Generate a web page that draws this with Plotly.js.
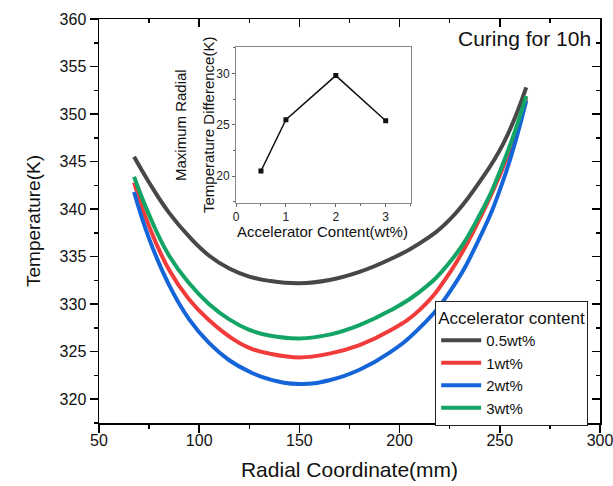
<!DOCTYPE html>
<html>
<head>
<meta charset="utf-8">
<script src="https://cdn.plot.ly/plotly-3.0.1.min.js"></script>
<style>html,body{margin:0;padding:0;background:#fff;}#chart{width:613px;height:486px;}</style>
</head>
<body>
<div id="chart"></div>
<script>
// Main chart data
const radial = [67.5, 75, 85, 95, 105, 115, 125, 135, 150, 165, 180, 195, 210, 225, 240, 252, 263.2];
const temp05 = [345.5, 342.8, 339.6, 337.1, 335.1, 333.75, 332.9, 332.45, 332.2, 332.55, 333.4, 334.7, 336.4, 338.9, 342.9, 347.0, 352.8];
const temp1  = [342.8, 338.2, 333.6, 330.5, 328.3, 326.6, 325.4, 324.8, 324.4, 324.8, 325.7, 327.2, 329.4, 333.3, 339.0, 344.6, 351.7];
const temp2  = [341.8, 336.9, 332.0, 328.4, 325.9, 324.1, 322.9, 322.1, 321.6, 322.0, 323.1, 324.9, 327.5, 331.3, 337.0, 343.2, 351.4];
const temp3  = [343.4, 339.4, 335.1, 332.2, 330.0, 328.4, 327.3, 326.7, 326.4, 326.8, 327.8, 329.3, 331.3, 334.4, 339.4, 345.0, 351.9];
const seriesNames = ['0.5wt%', '1wt%', '2wt%', '3wt%'];
const seriesColors = ['#474747', '#f23c3c', '#1565d8', '#14a566'];

// Inset data
const accelContent = [0.5, 1, 2, 3];
const maxTempDiff = [20.5, 25.5, 29.8, 25.4];

const FONT = 'Arial, "Liberation Sans", sans-serif';
const seriesData = [temp05, temp1, temp2, temp3];

const traces = seriesData.map((ys, i) => ({
  type: 'scatter', mode: 'lines', x: radial, y: ys, name: seriesNames[i],
  line: {color: seriesColors[i], width: 4, shape: 'spline', smoothing: 1.3},
  xaxis: 'x', yaxis: 'y'
}));

traces.push({
  type: 'scatter', mode: 'lines+markers', x: accelContent, y: maxTempDiff,
  line: {color: '#111', width: 1.5},
  marker: {symbol: 'square', size: 5, color: '#111'},
  xaxis: 'x2', yaxis: 'y2', showlegend: false, hoverinfo: 'skip'
});
// helper empty traces to draw top and right frame axes with inward ticks
traces.push({type: 'scatter', x: [], y: [], xaxis: 'x3', yaxis: 'y', showlegend: false, hoverinfo: 'skip'});
traces.push({type: 'scatter', x: [], y: [], xaxis: 'x', yaxis: 'y3', showlegend: false, hoverinfo: 'skip'});

const axisCommon = {
  showgrid: false, zeroline: false, showline: true, linecolor: '#000', linewidth: 1.5,
  tickcolor: '#000', tickwidth: 1.5, ticklen: 8,
  tickfont: {family: FONT, size: 16, color: '#111'}
};

const layout = {
  width: 613, height: 486,
  margin: {l: 99, r: 13, t: 19, b: 63},
  paper_bgcolor: '#fff', plot_bgcolor: 'rgba(0,0,0,0)',
  font: {family: FONT, color: '#111'},
  showlegend: true,
  xaxis: Object.assign({}, axisCommon, {
    range: [50, 300], dtick: 50, tick0: 50, ticks: 'outside', ticklabeloverflow: 'allow',
    ticklabelstandoff: -6,
    minor: {dtick: 25, ticks: 'outside', ticklen: 4, tickcolor: '#000', tickwidth: 1.5},
    title: {text: 'Radial Coordinate(mm)', font: {family: FONT, size: 21, color: '#111'}, standoff: 14}
  }),
  yaxis: Object.assign({}, axisCommon, {
    range: [317.5, 360], dtick: 5, tick0: 320, ticks: 'outside', ticklabeloverflow: 'allow',
    minor: {dtick: 2.5, ticks: 'outside', ticklen: 4, tickcolor: '#000', tickwidth: 1.5},
    title: {text: 'Temperature(K)', font: {family: FONT, size: 19, color: '#111'}, standoff: 14}
  }),
  xaxis3: Object.assign({}, axisCommon, {
    overlaying: 'x', side: 'top', anchor: 'y', range: [50, 300], dtick: 50, tick0: 50,
    ticks: 'inside', showticklabels: false,
    minor: {dtick: 25, ticks: 'inside', ticklen: 4, tickcolor: '#000', tickwidth: 1.5}
  }),
  yaxis3: Object.assign({}, axisCommon, {
    overlaying: 'y', side: 'right', anchor: 'x', range: [317.5, 360], dtick: 5, tick0: 320,
    ticks: 'inside', showticklabels: false,
    minor: {dtick: 2.5, ticks: 'inside', ticklen: 4, tickcolor: '#000', tickwidth: 1.5}
  }),
  xaxis2: {
    domain: [0.2735, 0.622], anchor: 'y2', range: [0, 3.5], dtick: 1, tick0: 0,
    showgrid: false, zeroline: false, showline: true, mirror: true, linecolor: '#888', linewidth: 1,
    ticks: 'outside', ticklen: 3, tickcolor: '#666', tickwidth: 1,
    minor: {dtick: 0.5, ticks: 'outside', ticklen: 2, tickcolor: '#666'},
    tickfont: {family: FONT, size: 12, color: '#222'}
  },
  yaxis2: {
    domain: [0.545, 0.931], anchor: 'x2', range: [17.4, 32.6], dtick: 5, tick0: 20,
    showgrid: false, zeroline: false, showline: true, mirror: true, linecolor: '#888', linewidth: 1,
    ticks: 'outside', ticklen: 3, tickcolor: '#666', tickwidth: 1,
    minor: {dtick: 2.5, ticks: 'outside', ticklen: 2, tickcolor: '#666'},
    tickfont: {family: FONT, size: 12, color: '#222'}
  },
  legend: {
    x: 0.671, y: 0.302, xanchor: 'left', yanchor: 'top',
    bgcolor: '#fff', bordercolor: '#222', borderwidth: 1,
    font: {family: FONT, size: 15, color: '#111'},
    title: {text: 'Accelerator content', font: {family: FONT, size: 17, color: '#111'}, side: 'top'},
    tracegroupgap: 0, itemwidth: 40
  },
  annotations: [
    {text: 'Curing for 10h', xref: 'paper', yref: 'paper', x: 0.986, y: 0.952,
     xanchor: 'right', yanchor: 'middle', showarrow: false,
     font: {family: FONT, size: 21, color: '#111'}},
    {text: 'Maximum Radial', xref: 'paper', yref: 'paper', x: 0.1617, y: 0.7376,
     xanchor: 'center', yanchor: 'middle', textangle: -90, showarrow: false,
     font: {family: FONT, size: 15, color: '#111'}},
    {text: 'Temperature Difference(K)', xref: 'paper', yref: 'paper', x: 0.2176, y: 0.7376,
     xanchor: 'center', yanchor: 'middle', textangle: -90, showarrow: false,
     font: {family: FONT, size: 15, color: '#111'}},
    {text: 'Accelerator Content(wt%)', xref: 'paper', yref: 'paper', x: 0.4465, y: 0.4735,
     xanchor: 'center', yanchor: 'middle', showarrow: false,
     font: {family: FONT, size: 15, color: '#111'}}
  ]
};

Plotly.newPlot('chart', traces, layout, {displayModeBar: false, staticPlot: true});
</script>
</body>
</html>
